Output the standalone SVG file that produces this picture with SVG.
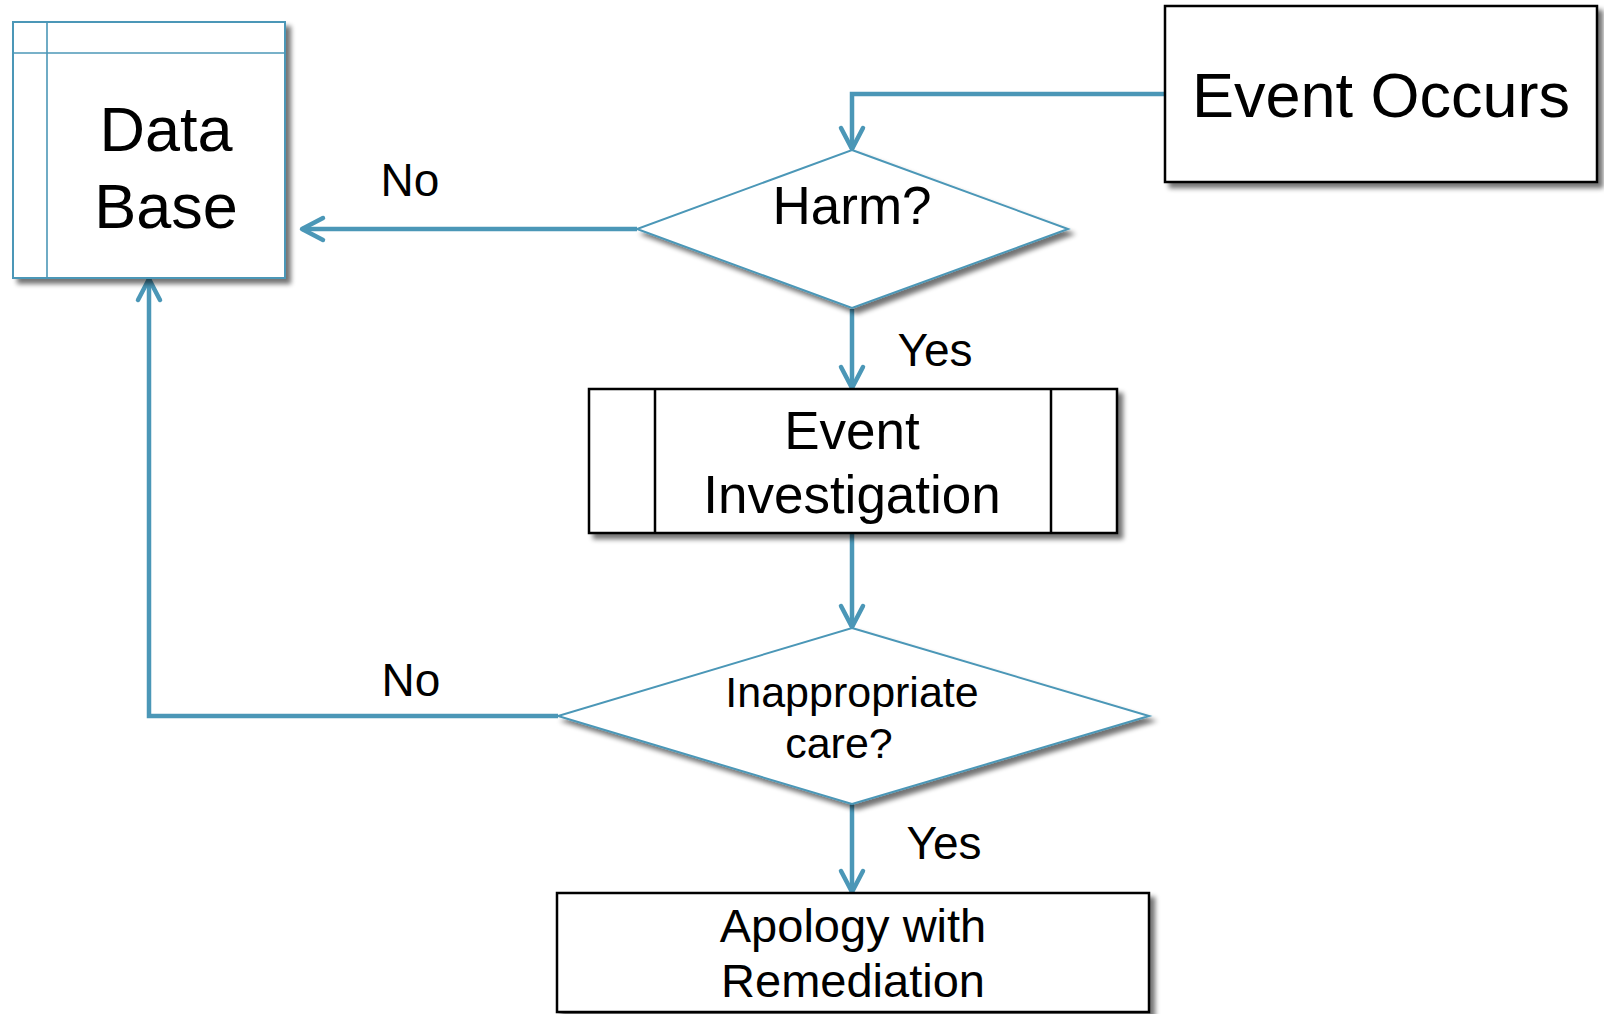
<svg xmlns="http://www.w3.org/2000/svg" width="1604" height="1014" viewBox="0 0 1604 1014">
  <defs>
    <filter id="shadow" x="-10%" y="-10%" width="130%" height="130%">
      <feGaussianBlur in="SourceAlpha" stdDeviation="2.5"/>
      <feOffset dx="5" dy="5" result="off"/>
      <feComponentTransfer><feFuncA type="linear" slope="0.55"/></feComponentTransfer>
      <feMerge><feMergeNode/><feMergeNode in="SourceGraphic"/></feMerge>
    </filter>
    <marker id="arrow" markerUnits="userSpaceOnUse" markerWidth="30" markerHeight="30" viewBox="-26 -14 30 28" refX="0" refY="0" orient="auto">
      <path d="M -21 -11 L 0 0 L -21 11" fill="none" stroke="#4b97b7" stroke-width="4.5" stroke-linecap="round" stroke-linejoin="round"/>
    </marker>
  </defs>
  <style>
    text { font-family: "Liberation Sans", Arial, sans-serif; fill: #000; text-anchor: middle; }
    .box { fill: #fff; stroke: #000; stroke-width: 2.5; }
    .blue { fill: #fff; stroke: #4b97b7; stroke-width: 2; }
    .inner { fill: none; stroke: #4b97b7; stroke-width: 1.6; }
    .innerk { fill: none; stroke: #000; stroke-width: 2.5; }
    .conn { fill: none; stroke: #4b97b7; stroke-width: 4.5; marker-end: url(#arrow); }
    .big { font-size: 63px; }
    .mid { font-size: 53px; }
    .lbl { font-size: 46px; }
  </style>
  <rect width="1604" height="1014" fill="#fff"/>

  <g id="connectors">
    <path class="conn" d="M1165 94 H852 V149"/>
    <path class="conn" d="M637 229 H302"/>
    <path class="conn" d="M852 309 V388"/>
    <path class="conn" d="M852 533 V627"/>
    <path class="conn" d="M558 716 H149 V279"/>
    <path class="conn" d="M852 804 V892"/>
  </g>

  <g id="database">
    <g filter="url(#shadow)">
      <rect class="blue" x="13" y="22" width="272" height="256"/>
    </g>
    <line class="inner" x1="47" y1="22" x2="47" y2="278"/>
    <line class="inner" x1="13" y1="53" x2="285" y2="53"/>
    <text class="big" x="166" y="151">Data</text>
    <text class="big" x="166" y="228">Base</text>
  </g>

  <g id="event-occurs">
    <rect class="box" x="1165" y="6" width="432" height="176" filter="url(#shadow)"/>
    <text class="big" x="1381" y="117">Event Occurs</text>
  </g>

  <g id="harm">
    <polygon class="blue" points="852,150 1068,229 852,308 637,229" filter="url(#shadow)"/>
    <text class="mid" x="852" y="224">Harm?</text>
  </g>

  <g id="event-investigation">
    <rect class="box" x="589" y="389" width="528" height="144" filter="url(#shadow)"/>
    <line class="innerk" x1="655" y1="389" x2="655" y2="533"/>
    <line class="innerk" x1="1051" y1="389" x2="1051" y2="533"/>
    <text class="mid" x="852" y="449">Event</text>
    <text class="mid" x="852" y="513">Investigation</text>
  </g>

  <g id="inappropriate-care">
    <polygon class="blue" points="852,628 1149,716 852,804 558,716" filter="url(#shadow)"/>
    <text x="852" y="707" font-size="43">Inappropriate</text>
    <text x="839" y="758" font-size="43">care?</text>
  </g>

  <g id="apology">
    <rect class="box" x="557" y="893" width="592" height="119" filter="url(#shadow)"/>
    <text x="853" y="942" font-size="47">Apology with</text>
    <text x="853" y="997" font-size="47">Remediation</text>
  </g>

  <g id="labels">
    <text class="lbl" x="410" y="196">No</text>
    <text class="lbl" x="935" y="366">Yes</text>
    <text class="lbl" x="411" y="696">No</text>
    <text class="lbl" x="944" y="859">Yes</text>
  </g>
</svg>
